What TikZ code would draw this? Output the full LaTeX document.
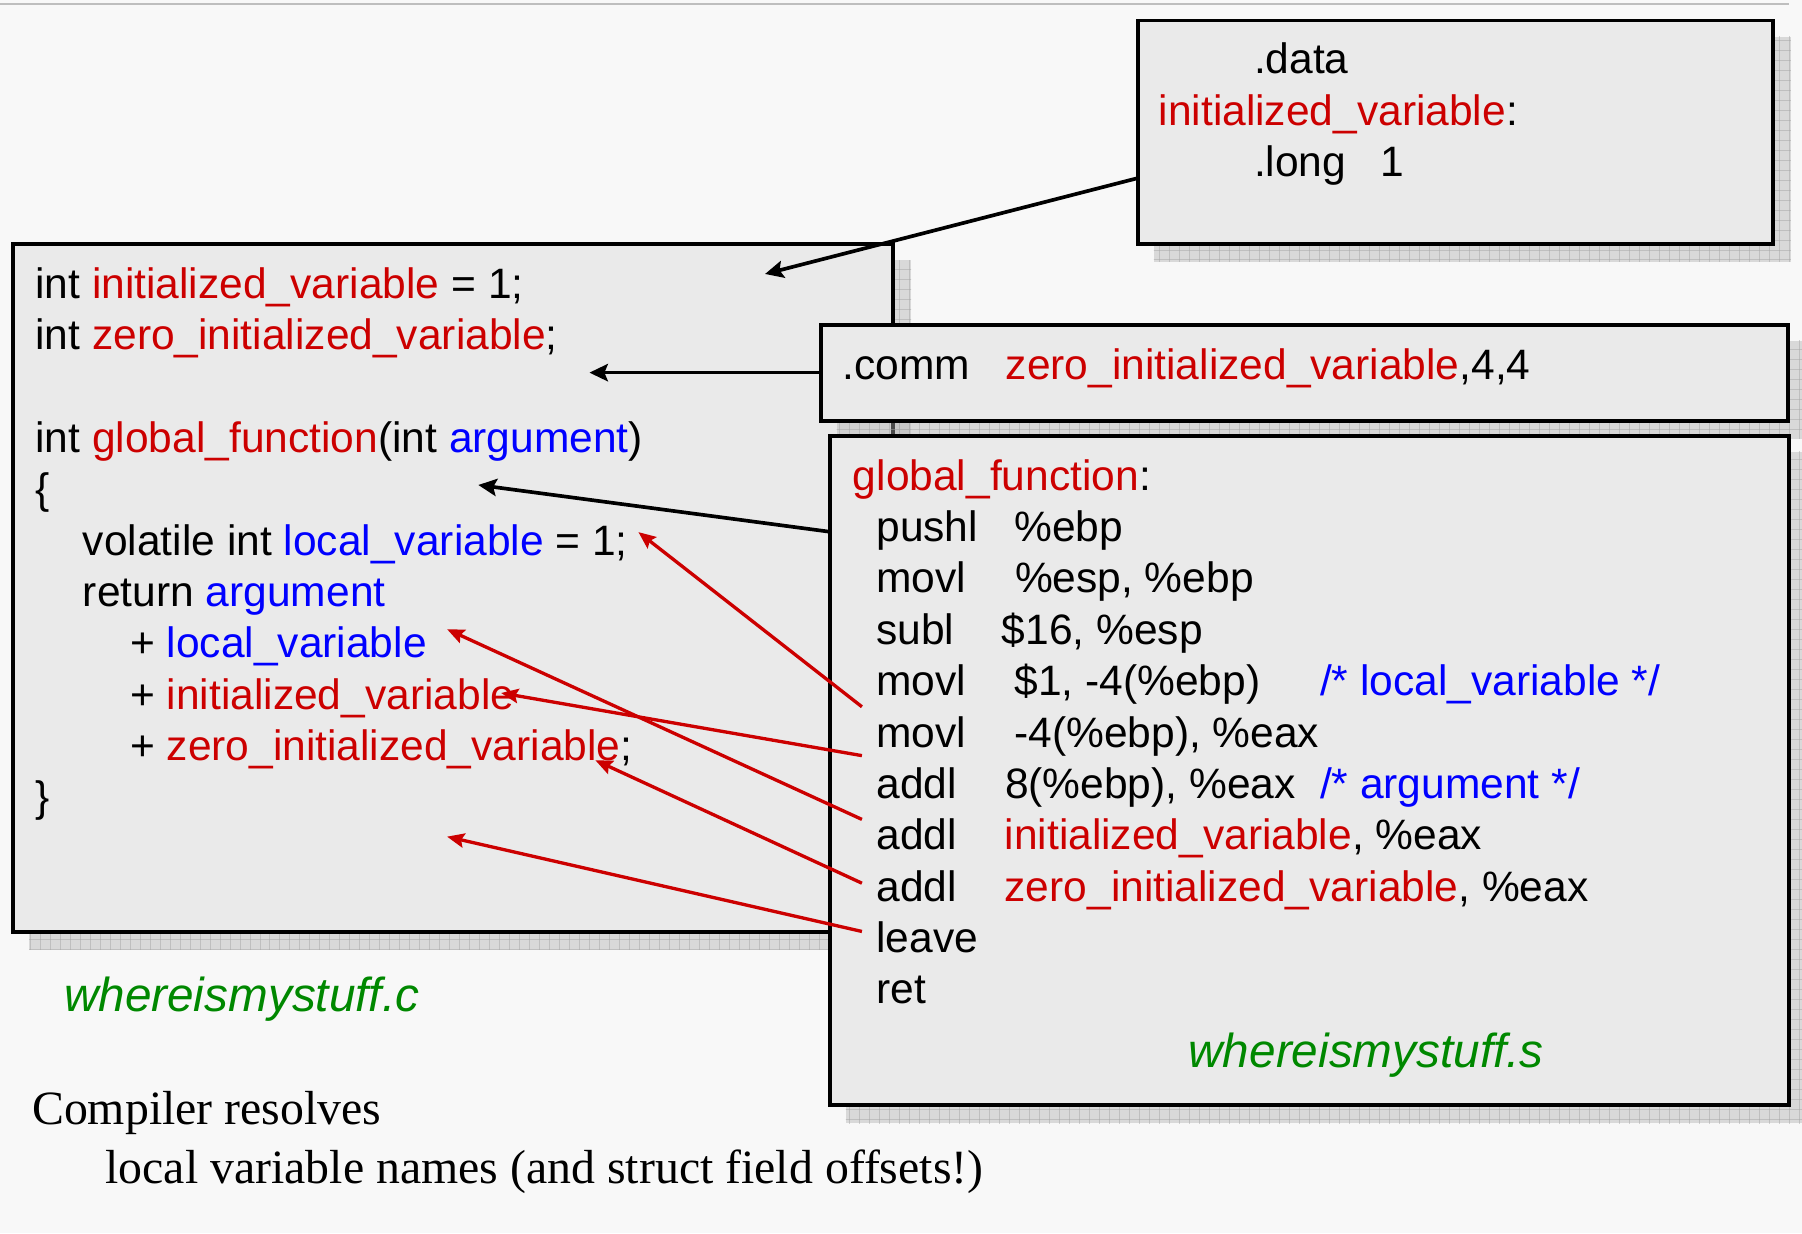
\documentclass[tikz,border=0pt]{standalone}
\usepackage{fontspec}
\usetikzlibrary{arrows.meta,calc,fit}
\newfontfamily\arialfam{Liberation Sans}
\newfontfamily\timesfam{Liberation Serif}
\definecolor{pagebg}{HTML}{F8F8F8}
\definecolor{boxgray}{HTML}{EAEAEA}
\definecolor{shadowgray}{HTML}{B0B0B0}
\definecolor{toplinegray}{HTML}{BEBEBE}
\definecolor{cred}{HTML}{CC0000}
\definecolor{cblue}{HTML}{0000FF}
\definecolor{cgreen}{HTML}{008800}
\newcommand\srcfont{\arialfam\fontsize{37}{44.7}\selectfont}
\newcommand\labfont{\arialfam\itshape\fontsize{41.5}{50}\selectfont}
\newcommand\notefnt{\timesfam\fontsize{41.6}{50}\selectfont}
\newcommand\rtxt[1]{\textcolor{cred}{#1}}
\newcommand\btxt[1]{\textcolor{cblue}{#1}}
% a framed grey box with a grid-textured drop shadow behind it
\newcommand\shadowedbox[5]{%
  \coordinate (#1NW) at (#2,#3);
  \coordinate (#1SE) at (#4,#5);
  \begin{scope}
    \clip ($(#1NW)+(14,14)$) rectangle ($(#1SE)+(15.7,15.7)$);
    \fill[shadowfill] ($(#1NW)+(14,14)$) rectangle ($(#1SE)+(15.7,15.7)$);
    \foreach \gx in {0,8.7,...,1570} {\draw[shadowgrid] (\gx,0) -- (\gx,1073);}
    \foreach \gy in {0,8.7,...,1073} {\draw[shadowgrid] (0,\gy) -- (1568,\gy);}
  \end{scope}
  \node[codebox, fit=(#1NW)(#1SE)] (#1) {};
}
\begin{document}
\begin{tikzpicture}[x=1pt,y=-1pt,
  codebox/.style={draw=black, line width=3.4pt, fill=boxgray, inner sep=0pt, outer sep=0pt},
  shadowfill/.style={fill=shadowgray, fill opacity=0.42},
  shadowgrid/.style={draw=black!35, line width=0.8pt, draw opacity=0.5},
  code/.style={inner sep=0pt, anchor=base west, font=\srcfont, yshift=-1.5pt},
  fname/.style={inner sep=0pt, anchor=base west, font=\labfont, text=cgreen, yshift=-1.5pt},
  note/.style={inner sep=0pt, anchor=base west, font=\notefnt, yshift=-1.5pt},
  blackarrow/.style={draw=black, line width=3.2pt, -{Stealth[length=16pt,width=15pt,inset=3pt]}},
  redarrow/.style={draw=cred, line width=2.9pt, -{Stealth[length=15pt,width=12.5pt,inset=2.5pt]}},
  topline/.style={draw=toplinegray, line width=2pt}]
\useasboundingbox (0,0) rectangle (1568,1073);
\fill[pagebg] (0,0) rectangle (1568,1073);
\draw[topline] (0,3.2) -- (1557,3.2);

% boxes, back to front
\shadowedbox{cbox}{11.3}{212.6}{777}{810.7}
\shadowedbox{dbox}{990}{17.8}{1542.5}{212}
\shadowedbox{mbox}{714}{282.5}{1555.5}{366}
\shadowedbox{abox}{722}{379}{1556.5}{961.5}

% C source
\node[code] (c1) at (30.6,258) {int \rtxt{initialized\_variable} = 1;};
\node[code] (c2) at (30.6,302.7) {int \rtxt{zero\_initialized\_variable};};
\node[code] (c3) at (30.6,392.1) {int \rtxt{global\_function}(int \btxt{argument})};
\node[code] (c4) at (30.6,436.8) {\{};
\node[code] (c5) at (72,481.5) {volatile int \btxt{local\_variable} = 1;};
\node[code] (c6) at (72,526.2) {return \btxt{argument}};
\node[code] (c7) at (113,570.9) {+ \btxt{local\_variable}};
\node[code] (c8) at (113,615.6) {+ \rtxt{initialized\_variable}};
\node[code] (c9) at (113,660.3) {+ \rtxt{zero\_initialized\_variable};};
\node[code] (c10) at (30.6,705) {\}};

% data section
\node[code] (d1) at (1091,62.4) {.data};
\node[code] (d2) at (1008,107.5) {\rtxt{initialized\_variable}:};
\node[code] (d3) at (1091,152) {.long};
\node[code] (d4) at (1201,152) {1};

% common symbol
\node[code] (m1) at (733,328.5) {.comm};
\node[code] (m2) at (875,328.5) {\rtxt{zero\_initialized\_variable},4,4};

% assembly
\node[code] (a0) at (742,425) {\rtxt{global\_function}:};
\node[code] (a1) at (762.4,469.7) {pushl};
\node[code] (a1o) at (882.5,469.7) {\%ebp};
\node[code] (a2) at (762.4,514.4) {movl};
\node[code] (a2o) at (883,514.4) {\%esp, \%ebp};
\node[code] (a3) at (762.4,559.1) {subl};
\node[code] (a3o) at (871.6,559.1) {\$16, \%esp};
\node[code] (a4) at (762.4,603.8) {movl};
\node[code] (a4o) at (882.5,603.8) {\$1, -4(\%ebp)};
\node[code] (a4c) at (1148.4,603.8) {\btxt{/* local\_variable */}};
\node[code] (a5) at (762.4,648.5) {movl};
\node[code] (a5o) at (882.5,648.5) {-4(\%ebp), \%eax};
\node[code] (a6) at (762.4,693.2) {addl};
\node[code] (a6o) at (874.3,693.2) {8(\%ebp), \%eax};
\node[code] (a6c) at (1148.4,693.2) {\btxt{/* argument */}};
\node[code] (a7) at (762.4,737.9) {addl};
\node[code] (a7o) at (874,737.9) {\rtxt{initialized\_variable}, \%eax};
\node[code] (a8) at (762.4,782.6) {addl};
\node[code] (a8o) at (874,782.6) {\rtxt{zero\_initialized\_variable}, \%eax};
\node[code] (a9) at (762.4,827.3) {leave};
\node[code] (a10) at (762.4,872) {ret};

% file names and note
\node[fname] (fs) at (1034,927) {whereismystuff.s};
\node[fname] (fc) at (55.6,879) {whereismystuff.c};
\node[note] (n1) at (27.8,977) {Compiler resolves};
\node[note] (n2) at (91.6,1028) {local variable names (and struct field offsets!)};

% symbol connectors
\coordinate (dataTail) at (990,155);
\coordinate (dataTip) at (665.7,238.4);
\coordinate (commTip) at (512.9,324.25);
\coordinate (asmTail) at (722,462.7);
\coordinate (asmTip) at (416.2,422);
\draw[blackarrow] (dataTail) -- (dataTip);
\draw[blackarrow] (mbox.west) -- (commTip);
\draw[blackarrow] (asmTail) -- (asmTip);

% resolved references
\coordinate (rA) at (750,615);   \coordinate (tA) at (555.5,463);
\coordinate (rB) at (750,657.5); \coordinate (tB) at (436,603);
\coordinate (rC) at (750,713);   \coordinate (tC) at (389,547.5);
\coordinate (rD) at (750,768.5); \coordinate (tD) at (518,661.5);
\coordinate (rE) at (750,810.5); \coordinate (tE) at (389,728);
\draw[redarrow] (rA) -- (tA);
\draw[redarrow] (rB) -- (tB);
\draw[redarrow] (rC) -- (tC);
\draw[redarrow] (rD) -- (tD);
\draw[redarrow] (rE) -- (tE);
\end{tikzpicture}
\end{document}
